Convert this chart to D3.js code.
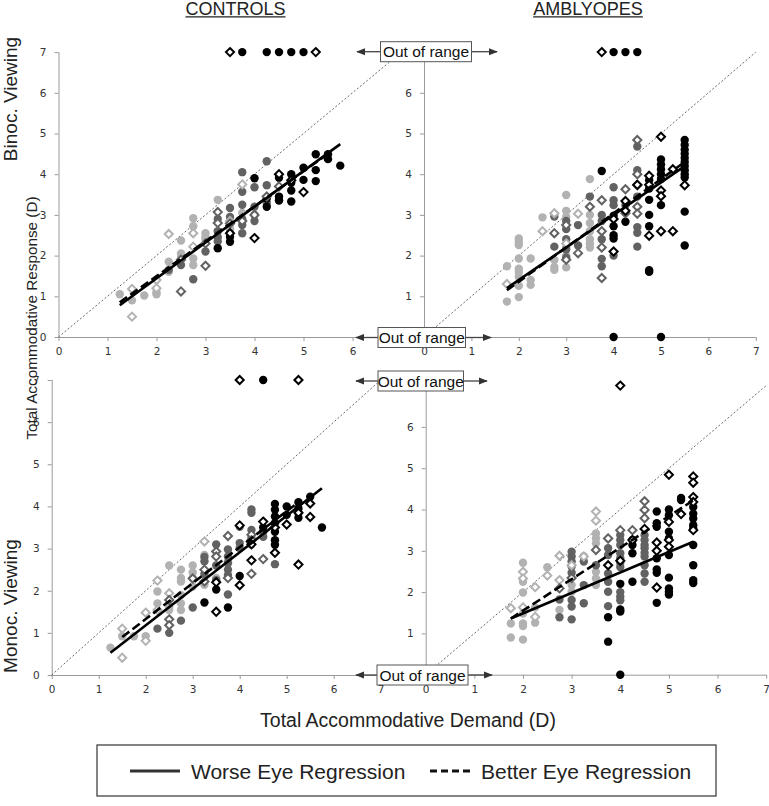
<!DOCTYPE html>
<html><head><meta charset="utf-8">
<script src="https://cdn.jsdelivr.net/npm/d3@7/dist/d3.min.js"></script>
<style>body{margin:0;background:#fff}svg{display:block}</style>
</head><body>
<svg id="chart" width="769" height="806"></svg>
<script>
// ---------------- DATA ----------------
const tickValues = [0, 1, 2, 3, 4, 5, 6, 7];
const tickValuesTopLeftX = [0, 1, 2, 3, 4, 5, 6];
const tickValuesRightY = [1, 2, 3, 4, 5, 6];
const groupTitles = ["CONTROLS", "AMBLYOPES"];
const rowTitles = ["Binoc. Viewing", "Monoc. Viewing"];
const yAxisTitle = "Total Accommodative Response (D)";
const xAxisTitle = "Total Accommodative Demand (D)";
const outOfRangeLabel = "Out of range";
const legendLabels = ["Worse Eye Regression", "Better Eye Regression"];

// Controls, binocular viewing
const ctrlBinLightCircle = [[1.25,1.05],[1.5,0.9],[1.75,1.02],[2,1.1],[2,1.05],[2.25,1.85],[2.25,1.6],[2.5,2.37],[2.5,2.05],[2.5,1.95],[2.75,2.92],[2.75,2.72],[2.75,1.93],[2.75,1.77],[3,2.55],[3,2.45],[3,2.4],[3.25,3.37],[3.5,2.75],[3.5,2.65],[3.75,3.05]];
const ctrlBinLightDiamond = [[1.5,1.18],[1.5,0.5],[2,1.4],[2,1.2],[2.25,2.53],[2.75,2.55],[2.75,2.22],[3.5,2.85],[3.75,3.75]];
const ctrlBinDarkCircle = [[2.25,1.65],[2.5,1.77],[2.75,1.42],[3,2.1],[3.25,2.9],[3.25,2.6],[3.25,2.45],[3.25,2.35],[3.5,3.17],[3.5,2.95],[3.5,2.55],[3.75,4.05],[3.75,3.57],[3.75,3.25],[3.75,2.9],[3.75,2.75],[3.75,2.55],[4,3.68],[4,3.2],[4,3.0],[4,2.85],[4.25,4.32],[4.25,3.73],[4.25,3.3],[4.5,3.35]];
const ctrlBinDarkDiamond = [[2.5,1.9],[2.5,1.12],[3,1.75],[3,2.3],[3.25,3.07],[3.25,2.8],[3.5,2.79],[3.75,2.85],[4,3.0],[4.25,3.45],[4.5,3.7]];
const ctrlBinBlackCircle = [[3.25,2.18],[3.5,2.46],[3.5,2.34],[4,3.9],[4.25,3.4],[4.25,3.2],[4.5,3.91],[4.5,3.45],[4.5,3.36],[4.75,4.0],[4.75,3.79],[4.75,3.6],[4.75,3.33],[5,4.16],[5,3.86],[5.25,4.49],[5.25,4.1],[5.25,3.83],[5.5,4.49],[5.5,4.37],[5.75,4.21],[3.75,7],[4.25,7],[4.5,7],[4.75,7],[5,7]];
const ctrlBinBlackDiamond = [[3.5,2.55],[4,2.43],[4.5,4.0],[4.75,3.85],[5,3.56],[3.5,7],[5.25,7]];
const ctrlBinWorseFit = [[1.25,0.78],[5.75,4.74]];
const ctrlBinBetterFit = [[1.25,0.85],[5.5,4.5]];

// Amblyopes, binocular viewing
const amblBinLightCircle = [[1.75,1.74],[1.75,0.87],[2,2.42],[2,2.34],[2,2.26],[2,1.93],[2,1.68],[2,1.6],[2,1.48],[2,1.26],[2,0.98],[2.25,1.93],[2.25,1.4],[2.25,1.28],[2.5,2.94],[2.75,1.89],[2.75,1.72],[2.75,1.65],[3,3.49],[3,3.1],[3,2.95],[3,2.2],[3,2.0],[3,1.71],[3.5,3.88],[3.5,3.0],[3.5,2.8],[3.5,2.6],[3.5,2.4],[3.5,2.3],[3.5,2.2]];
const amblBinLightDiamond = [[1.75,1.3],[2.5,2.6],[2.75,3.04],[3,2.3],[3.25,3.03]];
const amblBinDarkCircle = [[2.75,2.96],[2.75,2.22],[3,2.85],[3,2.65],[3,2.4],[3,2.15],[3,1.95],[3.25,2.75],[3.25,2.25],[3.5,3.45],[3.75,3.0],[3.75,2.85],[3.75,2.4],[3.75,1.92],[3.75,1.74],[4,3.68],[4,3.36],[4,3.24],[4,2.0],[4.25,3.24],[4.5,4.68],[4.5,4.1],[4.5,3.45],[4.5,2.7],[4.5,2.56],[4.5,2.22]];
const amblBinDarkDiamond = [[2.75,2.55],[3,2.75],[3,1.9],[3.25,2.06],[3.5,3.2],[3.75,3.36],[3.75,2.6],[3.75,2.2],[3.75,1.45],[4.25,3.63],[4.25,3.04],[4.5,4.84],[4.5,4.0],[4.5,3.73],[4.5,3.2],[4.5,3.03]];
const amblBinBlackCircle = [[3.75,4.08],[4,2.98],[4,2.72],[4,2.5],[4,2.42],[4.25,2.83],[4.75,3.85],[4.75,3.65],[4.75,3.37],[4.75,3.0],[4.75,2.72],[4.75,1.64],[4.75,1.6],[5,4.36],[5,4.24],[5,4.12],[5,4.0],[5,3.88],[5,3.24],[5.5,4.84],[5.5,4.72],[5.5,4.6],[5.5,4.5],[5.5,4.4],[5.5,4.3],[5.5,4.2],[5.5,4.1],[5.5,4.0],[5.5,3.92],[5.5,3.08],[5.5,2.25],[4,7],[4.25,7],[4.5,7],[4,0],[5,0]];
const amblBinBlackDiamond = [[4,2.9],[4,2.1],[4.25,3.34],[4.25,3.1],[4.5,3.74],[4.75,3.96],[4.75,3.74],[4.75,2.49],[5,4.92],[5,3.6],[5,3.46],[5,2.6],[5.25,4.12],[5.25,2.6],[5.5,3.73],[3.75,7]];
const amblBinWorseFit = [[1.75,1.2],[5.5,4.2]];
const amblBinBetterFit = [[1.75,1.15],[5.5,4.3]];

// Controls, monocular viewing
const ctrlMonLightCircle = [[1.25,0.65],[1.5,0.92],[1.75,0.92],[2,0.92],[2.25,1.98],[2.25,1.7],[2.5,2.6],[2.5,1.62],[2.5,1.54],[2.75,2.5],[2.75,2.3],[2.75,2.22],[2.75,1.9],[2.75,1.7],[2.75,1.54],[3,2.6],[3,2.43],[3,2.3],[3,2.1],[3.25,2.85],[3.25,2.14],[3.5,2.3],[3.75,2.7]];
const ctrlMonLightDiamond = [[1.5,0.41],[1.5,1.1],[2,1.48],[2,0.81],[2.25,2.24],[2.25,1.54],[2.5,1.94],[3.25,3.17]];
const ctrlMonDarkCircle = [[2.25,1.1],[2.5,1.0],[2.75,1.29],[3,1.6],[3.25,2.8],[3.25,2.7],[3.25,2.4],[3.5,3.1],[3.5,2.6],[3.5,2.25],[3.75,2.98],[3.75,2.81],[3.75,2.65],[3.75,2.5],[3.75,2.37],[3.75,1.91],[4,3.52],[4,3.13],[4,3.01],[4.25,3.93],[4.25,3.85],[4.25,3.44],[4.25,3.25],[4.25,3.1],[4.5,3.4],[4.5,3.28],[4.75,2.63]];
const ctrlMonDarkDiamond = [[2.5,1.78],[2.5,1.32],[2.5,1.18],[3,2.29],[3.25,2.5],[3.25,2.22],[3.5,2.93],[3.5,2.81],[3.75,3.3],[3.75,2.3],[4.25,3.33],[4.25,3.2],[4.25,2.4],[4.5,2.75]];
const ctrlMonBlackCircle = [[3.25,1.72],[3.5,2.03],[3.75,1.6],[4,2.35],[4.5,3.5],[4.75,4.06],[4.75,3.92],[4.75,3.76],[4.75,3.6],[4.75,3.4],[4.75,3.2],[4.75,3.09],[5,4.0],[5,3.8],[5.25,4.1],[5.25,3.95],[5.25,3.85],[5.25,3.73],[5.5,4.23],[5.75,3.5],[4.5,7]];
const ctrlMonBlackDiamond = [[3.5,2.2],[3.5,1.5],[4,3.55],[4,2.13],[4.25,3.1],[4.25,2.72],[4.5,3.64],[4.75,3.5],[4.75,2.9],[5,3.57],[5.25,3.85],[5.25,2.62],[5.5,4.07],[5.5,3.75],[4,7],[5.25,7]];
const ctrlMonWorseFit = [[1.25,0.53],[5.75,4.43]];
const ctrlMonBetterFit = [[1.5,0.9],[5.25,4.1]];

// Amblyopes, monocular viewing
const amblMonLightCircle = [[1.75,1.24],[1.75,0.9],[2,2.71],[2,2.25],[2,1.99],[2,1.48],[2,1.24],[2,1.18],[2,0.85],[2.25,1.63],[2.25,1.26],[2.5,2.6],[2.75,1.57],[3,2.17],[3,2.01],[3.25,2.87],[3.5,3.42],[3.5,3.3],[3.5,3.18],[3.5,2.49],[3.5,2.33],[3.5,2.17]];
const amblMonLightDiamond = [[1.75,1.61],[2,2.49],[2,2.33],[2,1.63],[2.25,2.12],[2.25,1.4],[2.5,2.4],[2.75,2.88],[2.75,2.29],[3,2.65],[3.25,2.86],[3.5,3.95],[3.5,3.73],[3.75,3.3]];
const amblMonDarkCircle = [[2.75,1.82],[2.75,1.39],[3,2.98],[3,2.86],[3,2.74],[3,2.62],[3,2.47],[3,1.81],[3,1.65],[3,1.34],[3.25,2.74],[3.25,2.17],[3.25,1.73],[3.5,2.65],[3.75,3.06],[3.75,2.9],[3.75,2.45],[3.75,2.25],[3.75,2.01],[3.75,1.66],[4,3.38],[4,3.26],[4,3.14],[4,2.94],[4,2.82],[4,2.71],[4,2.61],[4,2.0],[4,1.89],[4,1.8],[4.5,3.38],[4.5,3.26],[4.5,3.14],[4.5,3.06],[4.5,2.95],[4.5,2.86],[4.5,2.65],[4.5,2.45],[4.5,2.25]];
const amblMonDarkDiamond = [[2.75,2.09],[3,2.34],[3.5,3.02],[3.75,3.3],[4,3.5],[4.25,3.5],[4.5,4.2],[4.5,3.99],[4.5,3.79]];
const amblMonBlackCircle = [[3.75,1.39],[3.75,0.8],[4,2.2],[4,1.58],[4,1.53],[4.25,3.26],[4.25,3.14],[4.25,2.94],[4.25,2.25],[4.75,3.95],[4.75,3.67],[4.75,3.58],[4.75,2.82],[4.75,2.55],[4.75,2.47],[4.75,1.74],[5,4.0],[5,3.86],[5,3.46],[5,3.3],[5,2.9],[5,2.35],[5,2.09],[5,2.01],[5,1.94],[5.25,4.28],[5.25,4.23],[5.5,4.06],[5.5,3.9],[5.5,3.78],[5.5,3.62],[5.5,3.54],[5.5,3.14],[5.5,2.65],[5.5,2.29],[5.5,2.22],[4,0]];
const amblMonBlackDiamond = [[3.75,2.65],[4,2.76],[4.25,3.26],[4.5,3.53],[4.75,3.2],[4.75,3.0],[4.75,2.11],[5,4.84],[5,3.7],[5,3.26],[5,3.1],[5.25,3.89],[5.5,4.8],[5.5,4.65],[5.5,4.3],[5.5,4.18],[5.5,3.5],[4,7]];
const amblMonWorseFit = [[1.75,1.36],[5.5,3.22]];
const amblMonBetterFit = [[1.75,1.36],[5.5,4.22]];

// ---------------- DRAWING ----------------
const svg = d3.select("#chart");
const LIGHT = "#b2b2b2", DARK = "#626262", BLACK = "#000000";
const sans = "'Liberation Sans', Arial, sans-serif";
const tickFont = "'DejaVu Sans', Verdana, sans-serif";

const panels = [
  { xr: [58.5, 401.5], yr: [337, 52.1], xt: tickValuesTopLeftX, yt: tickValues,
    series: [[ctrlBinLightCircle, LIGHT, "c"], [ctrlBinDarkCircle, DARK, "c"], [ctrlBinBlackCircle, BLACK, "c"],
             [ctrlBinLightDiamond, LIGHT, "d"], [ctrlBinDarkDiamond, DARK, "d"], [ctrlBinBlackDiamond, BLACK, "d"]],
    worse: ctrlBinWorseFit, better: ctrlBinBetterFit },
  { xr: [424, 755.8], yr: [337, 52.1], xt: tickValues, yt: tickValuesRightY,
    series: [[amblBinLightCircle, LIGHT, "c"], [amblBinDarkCircle, DARK, "c"], [amblBinBlackCircle, BLACK, "c"],
             [amblBinLightDiamond, LIGHT, "d"], [amblBinDarkDiamond, DARK, "d"], [amblBinBlackDiamond, BLACK, "d"]],
    worse: amblBinWorseFit, better: amblBinBetterFit },
  { xr: [51.7, 380.7], yr: [675, 380], xt: tickValues, yt: tickValues,
    series: [[ctrlMonLightCircle, LIGHT, "c"], [ctrlMonDarkCircle, DARK, "c"], [ctrlMonBlackCircle, BLACK, "c"],
             [ctrlMonLightDiamond, LIGHT, "d"], [ctrlMonDarkDiamond, DARK, "d"], [ctrlMonBlackDiamond, BLACK, "d"]],
    worse: ctrlMonWorseFit, better: ctrlMonBetterFit },
  { xr: [425.7, 766.2], yr: [674.7, 385.6], xt: tickValues, yt: tickValuesRightY,
    series: [[amblMonLightCircle, LIGHT, "c"], [amblMonDarkCircle, DARK, "c"], [amblMonBlackCircle, BLACK, "c"],
             [amblMonLightDiamond, LIGHT, "d"], [amblMonDarkDiamond, DARK, "d"], [amblMonBlackDiamond, BLACK, "d"]],
    worse: amblMonWorseFit, better: amblMonBetterFit }
];

panels.forEach(p => {
  const x = d3.scaleLinear().domain([0, 7]).range(p.xr);
  const y = d3.scaleLinear().domain([0, 7]).range(p.yr);
  const g = svg.append("g");

  const xa = g.append("g").attr("transform", `translate(0,${p.yr[0]})`)
    .call(d3.axisBottom(x).tickValues(p.xt).tickFormat(d3.format("d")).tickSize(4).tickSizeOuter(0).tickPadding(7));
  xa.select(".domain").attr("d", `M${p.xr[0]},0.5H${p.xr[1]}`);
  const ya = g.append("g").attr("transform", `translate(${p.xr[0]},0)`)
    .call(d3.axisLeft(y).tickValues(p.yt).tickFormat(d3.format("d")).tickSize(4).tickSizeOuter(0).tickPadding(8));
  ya.select(".domain").attr("d", `M0.5,${p.yr[0]}V${p.yr[1]}`);
  [xa, ya].forEach(a => {
    a.select(".domain").attr("stroke", "#9a9a9a");
    a.selectAll(".tick line").attr("stroke", "#9a9a9a");
    a.selectAll(".tick text").attr("fill", "#333").style("font-family", tickFont).style("font-size", "10.5px");
  });

  // identity line
  g.append("line")
    .attr("x1", x(0)).attr("y1", y(0)).attr("x2", x(7)).attr("y2", y(7))
    .attr("stroke", "#444").attr("stroke-width", 0.8).attr("stroke-dasharray", "2,2");

  p.series.filter(s => s[2] === "c").forEach(([data, col]) => {
    g.append("g").selectAll("circle").data(data).join("circle")
      .attr("cx", d => x(d[0])).attr("cy", d => y(d[1])).attr("r", 4.2).attr("fill", col);
  });
  p.series.filter(s => s[2] === "d").forEach(([data, col]) => {
    g.append("g").selectAll("path").data(data).join("path")
      .attr("d", d3.symbol(d3.symbolDiamond2, 42)())
      .attr("transform", d => `translate(${x(d[0])},${y(d[1])})`)
      .attr("fill", "#fff").attr("stroke", col).attr("stroke-width", 2);
  });

  const line = d3.line().x(d => x(d[0])).y(d => y(d[1]));
  g.append("path").attr("d", line(p.better)).attr("fill", "none").attr("stroke", "#000")
    .attr("stroke-width", 2.6).attr("stroke-dasharray", "9,4");
  g.append("path").attr("d", line(p.worse)).attr("fill", "none").attr("stroke", "#000")
    .attr("stroke-width", 2.6);
});

// Out of range boxes with arrows
const defs = svg.append("defs");
defs.append("marker").attr("id", "arr").attr("viewBox", "0 0 10 10").attr("refX", 9).attr("refY", 5)
  .attr("markerWidth", 9).attr("markerHeight", 9).attr("orient", "auto-start-reverse").attr("markerUnits", "userSpaceOnUse")
  .append("path").attr("d", "M0,1 L10,5 L0,9 Z").attr("fill", "#333");

const boxes = [
  { x0: 380.5, x1: 471.5, yc: 51.7, left: 356, right: 498 },
  { x0: 378, x1: 465.5, yc: 337.5, left: 355, right: 492 },
  { x0: 378, x1: 463.5, yc: 381, left: 355, right: 488 },
  { x0: 377, x1: 468, yc: 675, left: 355, right: 493 }
];
boxes.forEach(b => {
  svg.append("line").attr("x1", b.x0).attr("x2", b.left + 1).attr("y1", b.yc).attr("y2", b.yc)
    .attr("stroke", "#444").attr("stroke-width", 1.3).attr("marker-end", "url(#arr)");
  svg.append("line").attr("x1", b.x1).attr("x2", b.right - 1).attr("y1", b.yc).attr("y2", b.yc)
    .attr("stroke", "#444").attr("stroke-width", 1.3).attr("marker-end", "url(#arr)");
  svg.append("rect").attr("x", b.x0).attr("y", b.yc - 10).attr("width", b.x1 - b.x0).attr("height", 20)
    .attr("fill", "#fff").attr("stroke", "#555").attr("stroke-width", 1);
  svg.append("text").attr("x", (b.x0 + b.x1) / 2).attr("y", b.yc + 5.5).attr("text-anchor", "middle")
    .style("font-family", sans).style("font-size", "15.5px").attr("fill", "#111").text(outOfRangeLabel);
});

// Titles
[[235.5, groupTitles[0]], [588, groupTitles[1]]].forEach(([cx, t]) => {
  const tx = svg.append("text").attr("x", cx).attr("y", 14.5).attr("text-anchor", "middle")
    .style("font-family", sans).style("font-size", "18px").attr("fill", "#222").text(t);
  const bb = tx.node().getBBox();
  svg.append("line").attr("x1", bb.x).attr("x2", bb.x + bb.width).attr("y1", 16.8).attr("y2", 16.8)
    .attr("stroke", "#222").attr("stroke-width", 1.2);
});

svg.append("text").attr("transform", "translate(17,99) rotate(-90)").attr("text-anchor", "middle")
  .style("font-family", sans).style("font-size", "19px").attr("fill", "#222").text(rowTitles[0]);
svg.append("text").attr("transform", "translate(17,606) rotate(-90)").attr("text-anchor", "middle")
  .style("font-family", sans).style("font-size", "19px").attr("fill", "#222").text(rowTitles[1]);
svg.append("text").attr("transform", "translate(37,318) rotate(-90)").attr("text-anchor", "middle")
  .style("font-family", sans).style("font-size", "15.3px").attr("fill", "#222").text(yAxisTitle);
svg.append("text").attr("x", 408).attr("y", 727).attr("text-anchor", "middle")
  .style("font-family", sans).style("font-size", "19.5px").attr("fill", "#222").text(xAxisTitle);

// Legend
const lg = svg.append("g");
lg.append("rect").attr("x", 97).attr("y", 745).attr("width", 619).attr("height", 51)
  .attr("fill", "#fff").attr("stroke", "#333").attr("stroke-width", 1.2);
lg.append("line").attr("x1", 130).attr("x2", 180).attr("y1", 771).attr("y2", 771).attr("stroke", "#333").attr("stroke-width", 3);
lg.append("text").attr("x", 191).attr("y", 778.5).style("font-family", sans).style("font-size", "21px").attr("fill", "#222").text(legendLabels[0]);
lg.append("line").attr("x1", 430).attr("x2", 473).attr("y1", 771).attr("y2", 771).attr("stroke", "#111").attr("stroke-width", 3).attr("stroke-dasharray", "7,4");
lg.append("text").attr("x", 481).attr("y", 778.5).style("font-family", sans).style("font-size", "21px").attr("fill", "#222").text(legendLabels[1]);
</script>
</body></html>
